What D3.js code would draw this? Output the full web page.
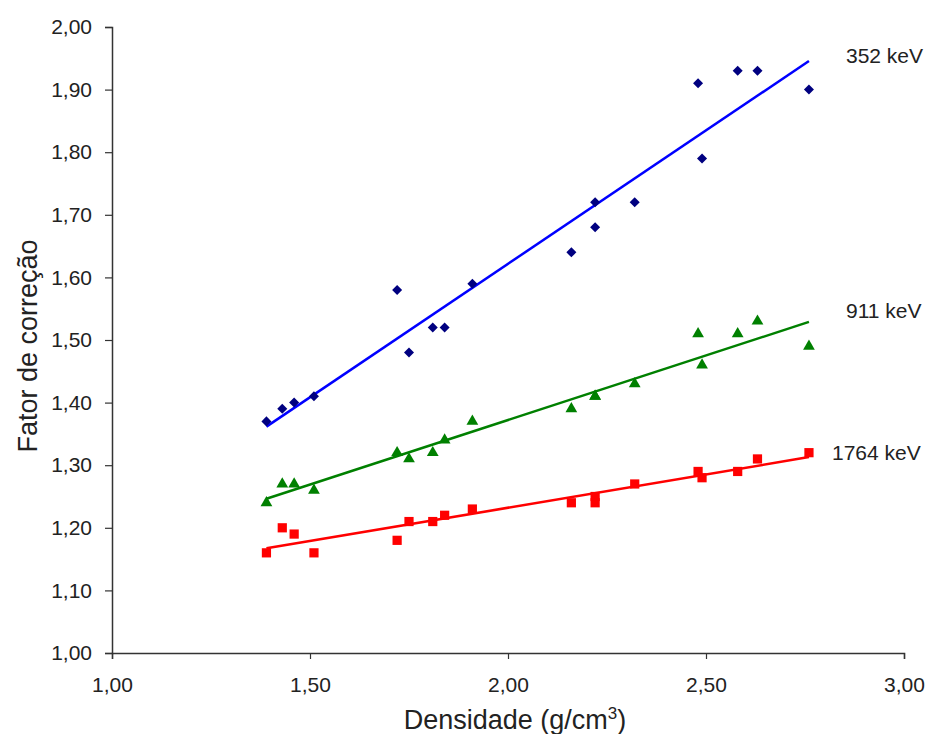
<!DOCTYPE html>
<html>
<head>
<meta charset="utf-8">
<script src="https://cdn.jsdelivr.net/npm/d3@7"></script>
<style>
  body { margin: 0; background: #fff; }
  text { font-family: "Liberation Sans", Arial, sans-serif; fill: #222; }
</style>
</head>
<body>
<script>
// densidades (g/cm3) das amostras
const densidade = [1.39, 1.43, 1.46, 1.51, 1.72, 1.75, 1.81, 1.84, 1.91,
  2.16, 2.22, 2.22, 2.32, 2.48, 2.49, 2.58, 2.63, 2.76];

// fatores de correção
const fator352 = [1.37, 1.39, 1.40, 1.41, 1.58, 1.48, 1.52, 1.52, 1.59,
  1.64, 1.72, 1.68, 1.72, 1.91, 1.79, 1.93, 1.93, 1.90];
const fator911 = [1.24, 1.27, 1.27, 1.26, 1.32, 1.31, 1.32, 1.34, 1.37,
  1.39, 1.41, 1.41, 1.43, 1.51, 1.46, 1.51, 1.53, 1.49];
const fator1764 = [1.16, 1.20, 1.19, 1.16, 1.18, 1.21, 1.21, 1.22, 1.23,
  1.24, 1.25, 1.24, 1.27, 1.29, 1.28, 1.29, 1.31, 1.32];

const series = [
  { nome: "352 keV", valores: fator352, cor: "#000080", linha: "#0000ff", simbolo: d3.symbolDiamond2, tam: 64, rx: 846, ry: 63 },
  { nome: "911 keV", valores: fator911, cor: "#008000", linha: "#008000", simbolo: d3.symbolTriangle, tam: 60, rx: 846, ry: 318 },
  { nome: "1764 keV", valores: fator1764, cor: "#ff0000", linha: "#ff0000", simbolo: d3.symbolSquare, tam: 85, rx: 832, ry: 460 }
];

const xTicks = [1.0, 1.5, 2.0, 2.5, 3.0];
const yTicks = [1.0, 1.1, 1.2, 1.3, 1.4, 1.5, 1.6, 1.7, 1.8, 1.9, 2.0];

const width = 930, height = 734;
const svg = d3.select("body").append("svg")
  .attr("width", width)
  .attr("height", height);

const x = d3.scaleLinear().domain([1, 3]).range([112, 904]);
const y = d3.scaleLinear().domain([1, 2]).range([653, 27]);

const virgula = d3.formatLocale({ decimal: ",", thousands: ".", grouping: [3], currency: ["R$", ""] }).format(".2f");

// eixo x
const gx = svg.append("g")
  .attr("transform", "translate(0," + y(1) + ")")
  .call(d3.axisBottom(x).tickValues(xTicks).tickFormat(virgula).tickSize(6).tickPadding(18));

// eixo y
const gy = svg.append("g")
  .attr("transform", "translate(" + x(1) + ",0)")
  .call(d3.axisLeft(y).tickValues(yTicks).tickFormat(virgula).tickSize(7).tickPadding(13));

[gx, gy].forEach(g => {
  g.select(".domain").attr("stroke", "#333").attr("stroke-width", 1.5);
  g.selectAll(".tick line").attr("stroke", "#333").attr("stroke-width", 1.2);
  g.selectAll(".tick text").attr("font-size", 21).attr("fill", "#222")
    .attr("font-family", "Liberation Sans, Arial, sans-serif");
});

// títulos dos eixos
svg.append("text")
  .attr("x", 515)
  .attr("y", 729)
  .attr("text-anchor", "middle")
  .attr("font-size", 27)
  .html('Densidade (g/cm<tspan font-size="17" dy="-10">3</tspan><tspan dy="10">)</tspan>');

svg.append("text")
  .attr("transform", "translate(37,346) rotate(-90)")
  .attr("text-anchor", "middle")
  .attr("font-size", 27)
  .text("Fator de correção");

// regressão linear para as linhas de tendência
function regressao(xs, ys) {
  const mx = d3.mean(xs), my = d3.mean(ys);
  let num = 0, den = 0;
  xs.forEach((v, i) => { num += (v - mx) * (ys[i] - my); den += (v - mx) * (v - mx); });
  const b = num / den;
  return v => my + b * (v - mx);
}

const xmin = d3.min(densidade), xmax = d3.max(densidade);

series.forEach(s => {
  const f = regressao(densidade, s.valores);
  svg.append("line")
    .attr("x1", x(xmin)).attr("y1", y(f(xmin)))
    .attr("x2", x(xmax)).attr("y2", y(f(xmax)))
    .attr("stroke", s.linha)
    .attr("stroke-width", 2.5);

  svg.append("g").selectAll("path")
    .data(s.valores)
    .join("path")
    .attr("transform", (d, i) => "translate(" + x(densidade[i]) + "," + y(d) + ")")
    .attr("d", d3.symbol().type(s.simbolo).size(s.tam))
    .attr("fill", s.cor);

  // rótulo da série
  svg.append("text")
    .attr("x", s.rx)
    .attr("y", s.ry)
    .attr("font-size", 21)
    .text(s.nome);
});
</script>
</body>
</html>
